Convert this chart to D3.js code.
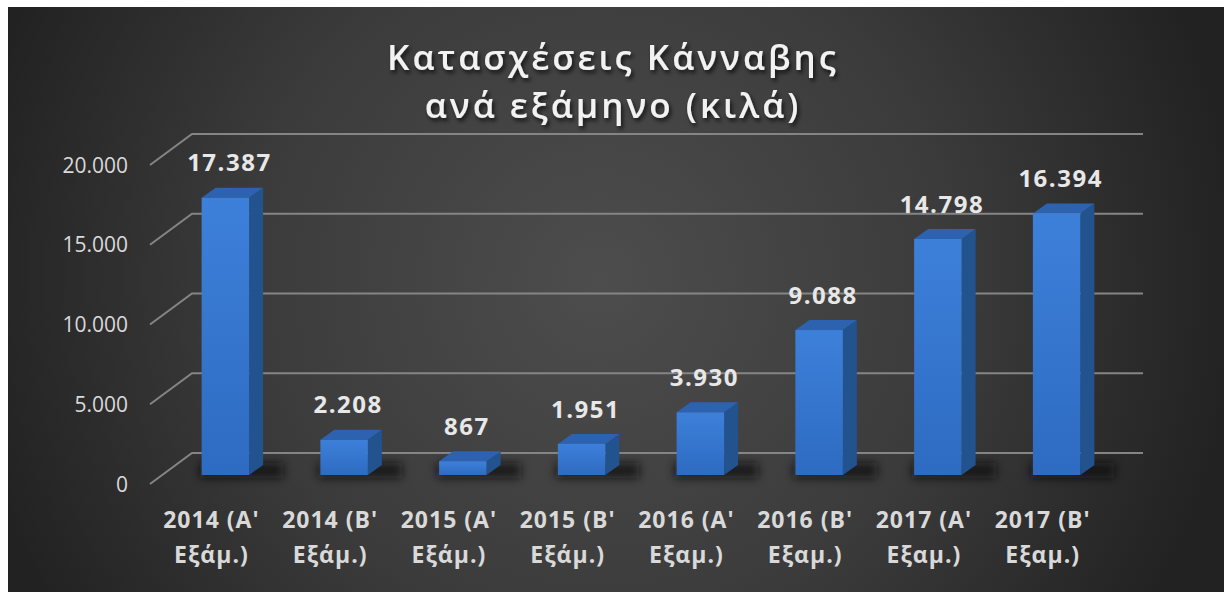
<!DOCTYPE html>
<html lang="el">
<head>
  <meta charset="UTF-8">
  <title>Κατασχέσεις Κάνναβης ανά εξάμηνο (κιλά)</title>
  <script src="https://d3js.org/d3.v7.min.js"></script>
  <style>
    body {
      margin: 0;
      background: #fff;
      font-family: "Open Sans", sans-serif;
    }
    svg { display: block; }
    .tick-label { fill: #d9d9d9; font-size: 21px; }
    .cat-label { fill: #d9d9d9; font-size: 23px; font-weight: 700; letter-spacing: 1px; }
    .value-label { fill: #e8e8e8; font-size: 24px; font-weight: 700; letter-spacing: 1.5px; }
    .title { fill: #f2f2f2; font-size: 35px; font-weight: 600; letter-spacing: 3px; }
  </style>
</head>
<body>
  <svg id="chart"></svg>
  <script>
    const categories = ["2014 (A' Εξάμ.)", "2014 (B' Εξάμ.)", "2015 (A' Εξάμ.)", "2015 (B' Εξάμ.)",
                        "2016 (A' Εξαμ.)", "2016 (B' Εξαμ.)", "2017 (A' Εξαμ.)", "2017 (B' Εξαμ.)"];
    const values = [17387, 2208, 867, 1951, 3930, 9088, 14798, 16394];
    const yTicks = [0, 5000, 10000, 15000, 20000];
    const titleLines = ["Κατασχέσεις Κάνναβης", "ανά εξάμηνο (κιλά)"];

    const W = 1224, H = 592;
    // 3d offsets: left wall depth and bar depth
    const wallDx = 42, wallDy = -31;
    const barDx = 14, barDy = -10;

    const svg = d3.select("#chart").attr("width", W).attr("height", H);
    const defs = svg.append("defs");

    const bg = defs.append("radialGradient").attr("id", "bg")
      .attr("gradientUnits", "userSpaceOnUse")
      .attr("cx", 600).attr("cy", 280).attr("r", 640);
    bg.append("stop").attr("offset", "0%").attr("stop-color", "#4d4d4d");
    bg.append("stop").attr("offset", "55%").attr("stop-color", "#3b3b3b");
    bg.append("stop").attr("offset", "100%").attr("stop-color", "#222");

    const front = defs.append("linearGradient").attr("id", "front")
      .attr("x1", 0).attr("y1", 0).attr("x2", 0).attr("y2", 1);
    front.append("stop").attr("offset", "0%").attr("stop-color", "#3d80da");
    front.append("stop").attr("offset", "100%").attr("stop-color", "#2e6bc2");

    defs.append("filter").attr("id", "blur")
      .attr("x", "-50%").attr("y", "-100%").attr("width", "200%").attr("height", "300%")
      .append("feGaussianBlur").attr("stdDeviation", 5);

    const ts = defs.append("filter").attr("id", "tshadow");
    ts.append("feDropShadow").attr("dx", 2).attr("dy", 3).attr("stdDeviation", 2)
      .attr("flood-color", "#000").attr("flood-opacity", 0.7);

    svg.append("rect").attr("x", 8).attr("y", 7).attr("width", W - 8).attr("height", H - 7)
      .attr("fill", "url(#bg)");

    // back wall scale and bar (front face) scale
    const yBack = d3.scaleLinear().domain([0, 20000]).range([453, 134]);
    const yBar = d3.scaleLinear().domain([0, 20000]).range([475, 156]);
    const x = d3.scaleBand().domain(categories).range([166, 1116])
      .paddingInner(0.6).paddingOuter(0.3);
    const wallX = 192, wallRight = 1143;

    // gridlines: back wall + left wall diagonals
    const grid = svg.append("g").attr("stroke", "#858585").attr("stroke-width", 2).attr("fill", "none");
    grid.selectAll("path").data(yTicks).join("path")
      .attr("d", d => `M${wallX - wallDx},${yBack(d) - wallDy}L${wallX},${yBack(d)}L${wallRight},${yBack(d)}`);

    svg.append("g").selectAll("text").data(yTicks).join("text")
      .attr("class", "tick-label")
      .attr("x", 128).attr("y", d => yBack(d) - wallDy)
      .attr("text-anchor", "end").attr("dy", "0.36em")
      .text(d => d3.format(",")(d).replace(/,/g, "."));

    // bars
    const bars = svg.append("g").selectAll("g").data(values).join("g")
      .attr("transform", (d, i) => `translate(${x(categories[i])},0)`);
    const bw = x.bandwidth();

    bars.append("rect")
      .attr("x", -2).attr("y", yBar(0) - 12).attr("width", bw + 36).attr("height", 15)
      .attr("fill", "#111").attr("opacity", 0.75).attr("filter", "url(#blur)");

    bars.append("path") // side
      .attr("fill", "#22538f")
      .attr("d", d => `M${bw},${yBar(d)}L${bw + barDx},${yBar(d) + barDy}L${bw + barDx},${yBar(0) + barDy}L${bw},${yBar(0)}Z`);
    bars.append("path") // top
      .attr("fill", "#2c62b0")
      .attr("d", d => `M0,${yBar(d)}L${barDx},${yBar(d) + barDy}L${bw + barDx},${yBar(d) + barDy}L${bw},${yBar(d)}Z`);
    bars.append("rect") // front
      .attr("x", 0).attr("y", d => yBar(d)).attr("width", bw)
      .attr("height", d => yBar(0) - yBar(d)).attr("fill", "url(#front)");

    bars.append("text").attr("class", "value-label")
      .attr("x", bw / 2 + 4).attr("y", d => yBar(d) - 35).attr("dy", "0.36em")
      .attr("text-anchor", "middle")
      .text(d => d3.format(",")(d).replace(/,/g, "."));

    // category labels, two lines
    const cats = svg.append("g").selectAll("text").data(categories).join("text")
      .attr("class", "cat-label").attr("text-anchor", "middle")
      .attr("transform", d => `translate(${x(d) + bw / 2 - 14},0)`);
    cats.append("tspan").attr("x", 0).attr("y", 528).text(d => d.slice(0, d.indexOf(" Ε")));
    cats.append("tspan").attr("x", 0).attr("y", 563).text(d => d.slice(d.indexOf(" Ε") + 1));

    svg.append("g").attr("filter", "url(#tshadow)").selectAll("text").data(titleLines).join("text")
      .attr("class", "title").attr("text-anchor", "middle")
      .attr("x", 613).attr("y", (d, i) => 70 + i * 48)
      .text(d => d);
  </script>
</body>
</html>
